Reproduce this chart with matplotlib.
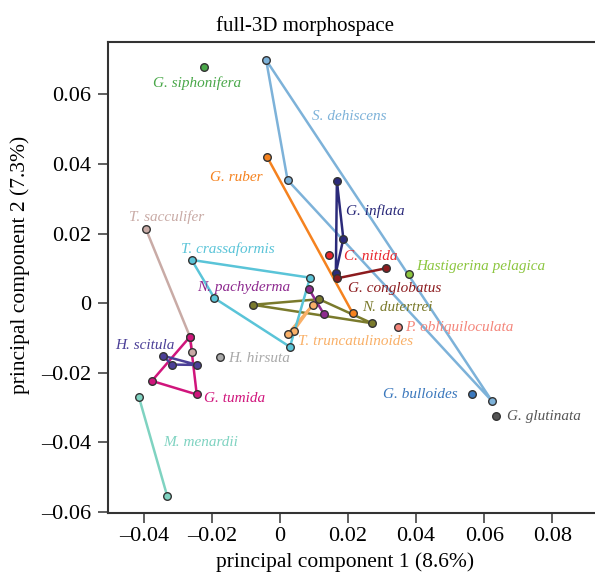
import numpy as np
import matplotlib
matplotlib.use('Agg')
import matplotlib.pyplot as plt

plt.rcParams['font.family'] = 'Liberation Serif'

# species, colour, pc1 values, pc2 values (points in drawing order)
species = ['G. siphonifera', 'S. dehiscens', 'G. ruber', 'G. inflata', 'C. nitida',
           'G. conglobatus', 'Hastigerina pelagica', 'N. dutertrei', 'N. pachyderma',
           'T. truncatulinoides', 'P. obliquiloculata', 'T. crassaformis',
           'T. sacculifer', 'G. tumida', 'H. scitula', 'H. hirsuta', 'M. menardii',
           'G. bulloides', 'G. glutinata']

colors = ['#4aa84a', '#7db2d9', '#f5821f', '#2b2a7a', '#e8262d',
          '#8c1b1e', '#8cc63f', '#7a7a2c', '#8e2a8f',
          '#f9b068', '#f4857a', '#5ac4d8',
          '#c9aba6', '#d0157c', '#4b3f97', '#a9a9a9', '#7fd3c1',
          '#3b78bd', '#555555']

pc1 = [[-0.0225],
       [-0.0041, 0.0022, 0.0623],
       [-0.0038, 0.0214],
       [0.0167, 0.0186, 0.0164],
       [0.0144],
       [0.0167, 0.0311],
       [0.0379],
       [-0.0080, 0.0115, 0.0270],
       [0.0085, 0.0129],
       [0.0096, 0.0041, 0.0023],
       [0.0346],
       [-0.0260, 0.0088, 0.0029, -0.0193],
       [-0.0395, -0.0265, -0.0258],
       [-0.0265, -0.0377, -0.0245],
       [-0.0343, -0.0319, -0.0243],
       [-0.0177],
       [-0.0415, -0.0332],
       [0.0564],
       [0.0635]]

pc2 = [[0.0680],
       [0.0699, 0.0354, -0.0282],
       [0.0420, -0.0030],
       [0.0351, 0.0185, 0.0087],
       [0.0138],
       [0.0071, 0.0100],
       [0.0083],
       [-0.0005, 0.0011, -0.0058],
       [0.0040, -0.0032],
       [-0.0005, -0.0079, -0.0088],
       [-0.0070],
       [0.0124, 0.0073, -0.0126, 0.0014],
       [0.0214, -0.0097, -0.0140],
       [-0.0097, -0.0224, -0.0263],
       [-0.0152, -0.0177, -0.0178],
       [-0.0156],
       [-0.0271, -0.0555],
       [-0.0262],
       [-0.0325]]

# whether the outline is closed back to the first point
closed = [False, True, False, True, False, False, False, True, False, True, False, True,
          False, True, True, False, False, False, False]

# label anchor (left edge, vertical centre) in data units
label_x = [-0.0374, 0.0094, -0.0206, 0.0194, 0.0188, 0.0200, 0.0400, 0.0241, -0.0244,
           0.0053, 0.0368, -0.0291, -0.0444, -0.0224, -0.0485, -0.0152, -0.0344,
           0.0303, 0.0667]
label_y = [0.0634, 0.0537, 0.0361, 0.0265, 0.0135, 0.0043, 0.0104, -0.0012, 0.0046,
           -0.0112, -0.0069, 0.0155, 0.0247, -0.0276, -0.0122, -0.0160, -0.0402,
           -0.0262, -0.0325]

fig = plt.figure(figsize=(5.95, 5.73), dpi=100)
ax = fig.add_axes([108 / 595, 60 / 573, 487 / 595, 471 / 573])

for i in range(len(species)):
    xs = np.array(pc1[i])
    ys = np.array(pc2[i])
    if closed[i]:
        xs_l, ys_l = np.append(xs, xs[0]), np.append(ys, ys[0])
    else:
        xs_l, ys_l = xs, ys
    if len(xs) > 1:
        ax.plot(xs_l, ys_l, color=colors[i], lw=1.8, zorder=2)
    ax.scatter(xs, ys, s=30, color=colors[i], edgecolors='#333333', linewidths=1.0, zorder=3)
    ax.text(label_x[i], label_y[i], species[i], color=colors[i], style='italic',
            fontsize=11, ha='left', va='center')

ax.set_xlim(-0.0506, 0.0926)
ax.set_ylim(-0.0604, 0.0751)
ax.set_xticks([-0.04, -0.02, 0, 0.02, 0.04, 0.06, 0.08])
ax.set_xticklabels(['\u20130.04', '\u20130.02', '0', '0.02', '0.04', '0.06', '0.08'])
ax.set_yticks([-0.06, -0.04, -0.02, 0, 0.02, 0.04, 0.06])
ax.set_yticklabels(['\u20130.06', '\u20130.04', '\u20130.02', '0', '0.02', '0.04', '0.06'])
ax.tick_params(direction='out', length=7, width=1.2, color='#444444', labelsize=16)
ax.tick_params(axis='x', pad=3)
ax.tick_params(axis='y', pad=5)
ax.spines['right'].set_visible(False)
for s in ['left', 'bottom', 'top']:
    ax.spines[s].set_linewidth(1.5)
    ax.spines[s].set_color('#333333')

ax.set_xlabel('principal component 1 (8.6%)', fontsize=15.5)
ax.xaxis.set_label_coords(0.487, -0.083)
ax.set_ylabel('principal component 2 (7.3%)', fontsize=15.5)
ax.yaxis.set_label_coords(-0.16, 0.5265)
ax.set_title('full-3D morphospace', fontsize=15, pad=8, x=0.4045)

plt.savefig('out.png')
